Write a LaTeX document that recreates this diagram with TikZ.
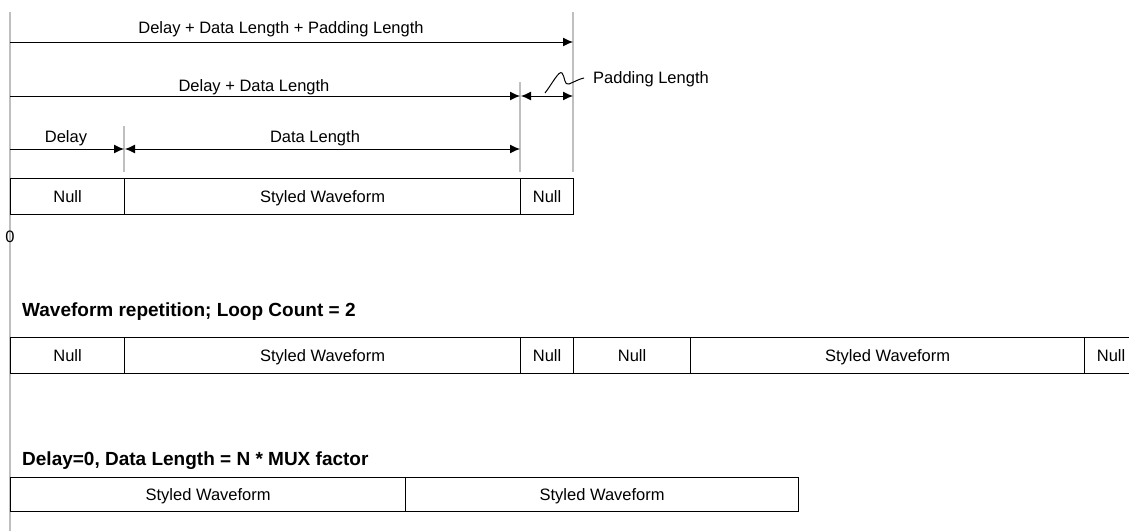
\documentclass[tikz,border=0pt]{standalone}
\usepackage{fontspec}
\setmainfont{Liberation Sans}
\usetikzlibrary{arrows.meta}
\begin{document}
\begin{tikzpicture}[x=1pt,y=-1pt,
  cell/.style={draw,line width=1.2pt,minimum height=36pt,inner sep=0pt,text height=13.5pt,text depth=1.5pt,font=\fontsize{16.5}{19}\selectfont,anchor=north west},
  guide/.style={draw=black!25,line width=1.2pt},
  dim/.style={line width=1pt,-{Latex[length=10pt,width=9pt]}},
  dimb/.style={line width=1pt,{Latex[length=10pt,width=9pt]}-{Latex[length=10pt,width=9pt]}},
  lbl/.style={font=\fontsize{16.5}{19}\selectfont,inner sep=0pt},
  ttl/.style={font=\bfseries\fontsize{19}{22}\selectfont,inner sep=0pt,anchor=west}]
\useasboundingbox (0,0) rectangle (1129,531);
% guide lines
\coordinate (g0t) at (10,12); \coordinate (g0b) at (10,531);
\coordinate (g1t) at (124,126); \coordinate (g1b) at (124,172);
\coordinate (g2t) at (520,82); \coordinate (g2b) at (520,172);
\coordinate (g3t) at (573,12); \coordinate (g3b) at (573,172);
\draw[guide] (g0t) -- (g0b);
\draw[guide] (g1t) -- (g1b);
\draw[guide] (g2t) -- (g2b);
\draw[guide] (g3t) -- (g3b);
% dimension arrows
\coordinate (a1s) at (10,42); \coordinate (a1e) at (573,42);
\draw[dim] (a1s) -- (a1e);
\node[lbl] (l1) at (281,29) {Delay + Data Length + Padding Length};
\coordinate (a2s) at (10,96); \coordinate (a2e) at (520,96);
\draw[dim] (a2s) -- (a2e);
\node[lbl] (l2) at (254,87) {Delay + Data Length};
\coordinate (a3s) at (521,96); \coordinate (a3e) at (573,96);
\draw[dimb] (a3s) -- (a3e);
\node[lbl,anchor=west] (l3) at (593,79) {Padding Length};
\coordinate (sq0) at (545,93); \coordinate (sq1) at (584,78);
\draw[line width=1pt] (sq0) .. controls (552,84) and (559,70) .. (562,73) .. controls (565,76) and (564,86) .. (569,84) .. controls (574,82) and (579,79) .. (sq1);
\coordinate (a4s) at (10,149); \coordinate (a4e) at (124,149);
\draw[dim] (a4s) -- (a4e);
\node[lbl] (l4) at (66,138) {Delay};
\coordinate (a5s) at (125,149); \coordinate (a5e) at (520,149);
\draw[dimb] (a5s) -- (a5e);
\node[lbl] (l5) at (315,138) {Data Length};
% row 1 boxes
\node[cell,minimum width=114pt] (n1) at (10,178) {Null};
\node[cell,minimum width=396pt] (s1) at (124,178) {Styled Waveform};
\node[cell,minimum width=53pt] (n2) at (520,178) {Null};
\node[lbl] (zero) at (10,237) {0};
% row 2
\node[ttl] (t2) at (22,312) {Waveform repetition; Loop Count = 2};
\node[cell,minimum width=114pt] (r1) at (10,337) {Null};
\node[cell,minimum width=396pt] (r2) at (124,337) {Styled Waveform};
\node[cell,minimum width=53pt] (r3) at (520,337) {Null};
\node[cell,minimum width=117pt] (r4) at (573,337) {Null};
\node[cell,minimum width=394pt] (r5) at (690,337) {Styled Waveform};
\node[cell,minimum width=53pt] (r6) at (1084,337) {Null};
% row 3
\node[ttl] (t3) at (22,461) {Delay=0, Data Length = N * MUX factor};
\node[cell,minimum width=395pt,minimum height=34pt] (w1) at (10,477) {Styled Waveform};
\node[cell,minimum width=393pt,minimum height=34pt] (w2) at (405,477) {Styled Waveform};
\end{tikzpicture}
\end{document}
